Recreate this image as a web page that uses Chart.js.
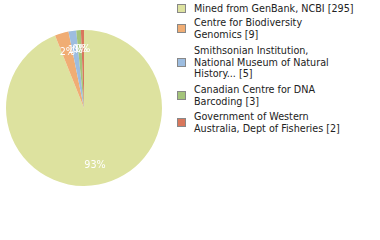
<!DOCTYPE html>
<html>
<head>
<meta charset="utf-8">
<script src="https://cdn.jsdelivr.net/npm/chart.js@4"></script>
<style>
  body { margin: 0; width: 380px; height: 240px; background: #fff; overflow: hidden; }
  #wrap { position: absolute; left: 0; top: 0; width: 168px; height: 216px; }
  #legend { position: absolute; left: 175px; top: 0; font-family: "DejaVu Sans Condensed", sans-serif; font-size: 10.7px; color: #222; }
  .item { position: absolute; left: 0; display: flex; align-items: center; white-space: nowrap; }
  .box { width: 7px; height: 7px; border: 1px solid #888; margin: 0 8px 0 2px; flex: none; }
  .txt { line-height: 11.5px; }
</style>
</head>
<body>
<div id="wrap"><canvas id="pie"></canvas></div>
<div id="legend"></div>
<script>
const labels = [
  ['Mined from GenBank, NCBI [295]'],
  ['Centre for Biodiversity', 'Genomics [9]'],
  ['Smithsonian Institution,', 'National Museum of Natural', 'History... [5]'],
  ['Canadian Centre for DNA', 'Barcoding [3]'],
  ['Government of Western', 'Australia, Dept of Fisheries [2]']
];
const counts = [295, 9, 5, 3, 2];
const colors = ['#dde29f', '#f0ad74', '#9dbde0', '#a4c47a', '#d9775c'];

const total = counts.reduce((a, b) => a + b, 0);

// legend as plain html so the labels can wrap
const rowTops = [3, 17, 45, 84, 111];
const legendEl = document.getElementById('legend');
labels.forEach((lines, i) => {
    const row = document.createElement('div');
    row.className = 'item';
    row.style.top = rowTops[i] + 'px';
    row.innerHTML = '<div class="box" style="background:' + colors[i] + '"></div>' +
        '<div class="txt">' + lines.join('<br>') + '</div>';
    legendEl.appendChild(row);
});

const pctLabels = {
    id: 'pctLabels',
    afterDatasetsDraw(chart) {
        const ctx = chart.ctx;
        const meta = chart.getDatasetMeta(0);
        ctx.save();
        ctx.fillStyle = '#ffffff';
        ctx.font = '10.7px "DejaVu Sans Condensed", sans-serif';
        ctx.textAlign = 'center';
        ctx.textBaseline = 'middle';
        meta.data.forEach((arc, i) => {
            const mid = (arc.startAngle + arc.endAngle) / 2;
            const r = arc.outerRadius * 0.75;
            const pct = Math.floor(counts[i] / total * 100) + '%';
            ctx.fillText(pct, arc.x + Math.cos(mid) * r, arc.y + Math.sin(mid) * r);
        });
        ctx.restore();
    }
};

new Chart(document.getElementById('pie'), {
    type: 'pie',
    data: {
        labels: labels.map(l => l.join(' ')),
        datasets: [{
            data: counts,
            backgroundColor: colors,
            borderWidth: 0
        }]
    },
    options: {
        responsive: true,
        maintainAspectRatio: false,
        animation: false,
        layout: { padding: 6 },
        plugins: {
            legend: { display: false },
            tooltip: { enabled: false }
        }
    },
    plugins: [pctLabels]
});
</script>
</body>
</html>
